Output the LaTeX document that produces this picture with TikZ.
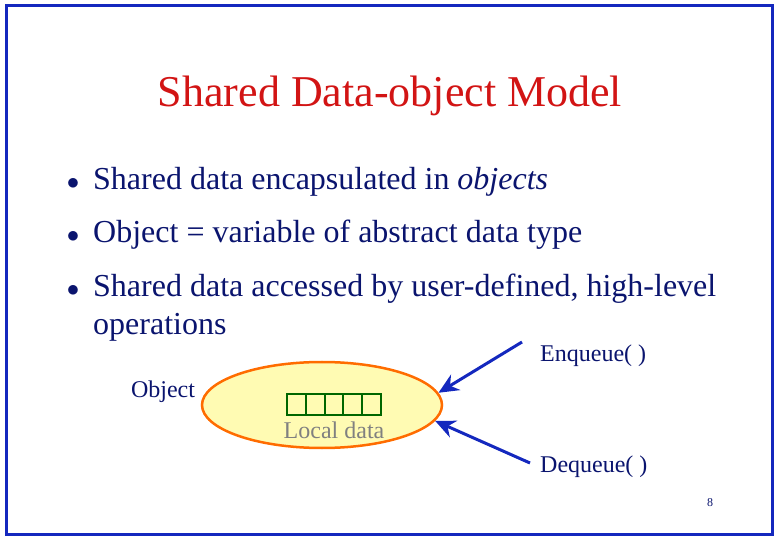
\documentclass[tikz,border=0pt]{standalone}
\usepackage{fontspec}
\setmainfont{Liberation Serif}
\usetikzlibrary{arrows.meta,shapes.geometric}
\definecolor{frameblue}{RGB}{20,40,190}
\definecolor{txtblue}{RGB}{10,20,110}
\definecolor{titlered}{RGB}{210,20,20}
\tikzset{
 bul/.style={anchor=base west,text=txtblue,font=\fontsize{32}{36}\selectfont,inner sep=0pt,align=left},
 dot/.style={anchor=base,text=txtblue,font=\fontsize{26}{30}\selectfont,inner sep=0pt},
 lbl/.style={text=txtblue,font=\fontsize{24}{28}\selectfont,inner sep=0pt},
 arr/.style={draw=frameblue,line width=3pt,-{Stealth[length=20pt,width=18pt]}},
 cell/.style={draw=green!40!black,line width=2pt,minimum width=18.8pt,minimum height=21pt,inner sep=0pt}
}
\begin{document}
\begin{tikzpicture}[x=1pt,y=-1pt]
\useasboundingbox (0,0) rectangle (780,540);
\draw[frameblue,line width=3pt] (6,6) rectangle (772,534);
\node[text=titlered,font=\fontsize{44}{48}\selectfont,inner sep=0pt] (title) at (390,96) {Shared Data-object Model};
\node[dot] (d1x) at (73,190) {$\bullet$};
\node[bul] (b1) at (93,190) {Shared data encapsulated in \textit{objects}};
\node[dot] (d2x) at (73,243) {$\bullet$};
\node[bul] (b2) at (93,243) {Object = variable of abstract data type};
\node[dot] (d3x) at (73,297) {$\bullet$};
\node[bul] (b3) at (93,297) {Shared data accessed by user-defined, high-level};
\node[bul] (b3b) at (93,335) {operations};
\node[draw=orange!85!red,line width=2.5pt,fill=yellow!30,ellipse,minimum width=240pt,minimum height=86pt,inner sep=0pt] (obj) at (322,405) {};
\foreach \i in {0,...,4}{\node[cell] (c\i) at (296.4+\i*18.8,404.5) {};}
\node[text=gray,font=\fontsize{24}{28}\selectfont,inner sep=0pt] (ld) at (334,430) {Local data};
\node[lbl] (objl) at (163,392) {Object};
\node[lbl,anchor=west] (enq) at (540,356) {Enqueue( )};
\node[lbl,anchor=west] (deq) at (540,467) {Dequeue( )};
\coordinate (e1) at (522,342);
\coordinate (d1) at (530,463);
\draw[arr] (e1) -- (obj.6);
\draw[arr] (d1) -- (obj.-8);
\node[text=txtblue,font=\fontsize{12}{14}\selectfont,inner sep=0pt] (pg) at (710,503) {8};
\end{tikzpicture}
\end{document}
